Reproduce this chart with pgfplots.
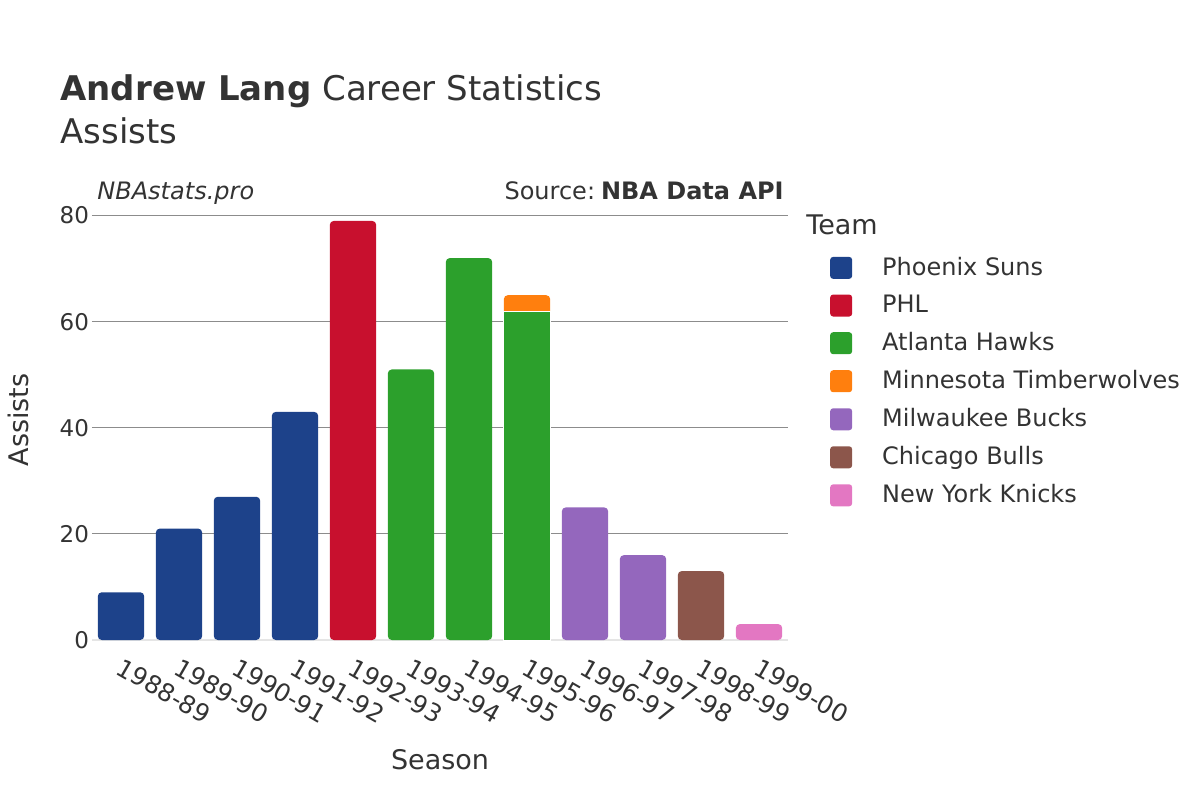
\documentclass[border=0pt]{standalone}
\usepackage{pgfplots}
\pgfplotsset{compat=1.18}
\usepackage{fontspec}
\setmainfont{DejaVu Sans}
\definecolor{txt}{HTML}{333333}
\definecolor{cPHX}{HTML}{1D428A}
\definecolor{cPHL}{HTML}{C8102E}
\definecolor{cATL}{HTML}{2CA02C}
\definecolor{cMIN}{HTML}{FF7F0E}
\definecolor{cMIL}{HTML}{9467BD}
\definecolor{cCHI}{HTML}{8C564B}
\definecolor{cNYK}{HTML}{E377C2}
\definecolor{gridc}{HTML}{8C8C8C}
\definecolor{basec}{HTML}{E5E5E5}
\begin{document}
\begin{tikzpicture}[x=1pt,y=1pt]
\path[use as bounding box] (0pt,0pt) rectangle (600pt,400pt);
\begin{axis}[
  at={(46pt,80pt)}, anchor=south west, scale only axis,
  width=348pt, height=217.5pt,
  xmin=-0.5, xmax=11.5, ymin=0, ymax=82,
  ybar, bar width=0.8, bar shift=0pt,
  clip=false,
  axis line style={draw=none},
  tick style={draw=none},
  xtick={0,...,11},
  xticklabels={1988-89,1989-90,1990-91,1991-92,1992-93,1993-94,1994-95,1995-96,1996-97,1997-98,1998-99,1999-00},
  xticklabel style={rotate=-30, anchor=north west, font=\fontsize{12.3}{14}\selectfont, text=txt, xshift=0pt, yshift=0.5pt},
  ytick={20,40,60,80},
  extra y ticks={0},
  extra y tick style={grid style={color=basec, line width=1.2pt}},
  ymajorgrids,
  grid style={color=gridc, line width=0.5pt},
  yticklabel style={font=\fontsize{11.5}{13}\selectfont, text=txt, xshift=2pt},
  /pgf/number format/assume math mode=true,
  every axis plot/.append style={draw=none, rounded corners=2pt},
  legend style={at={(1.06,0.89)}, anchor=north west, draw=none, fill=none,
    font=\fontsize{12}{14}\selectfont, text=txt, row sep=4.4pt,
    /tikz/every odd column/.append style={column sep=13pt},
    inner sep=0pt},
  legend cell align=left,
  legend image code/.code={\fill[#1, draw=none, rounded corners=1.5pt] (0pt,-5.5pt) rectangle (11pt,5.5pt);},
]
\addplot[fill=cPHX] coordinates {(0,9) (1,21) (2,27) (3,43)};
\addlegendentry{Phoenix Suns}
\addplot[fill=cPHL] coordinates {(4,79)};
\addlegendentry{PHL}
\addplot[fill=cATL] coordinates {(5,51) (6,72)};
\addlegendentry{Atlanta Hawks}
\addplot[fill=cMIN] coordinates {(7,65)};
\addlegendentry{Minnesota Timberwolves}
\addplot[fill=cATL, draw=white, line width=0.5pt, rounded corners=0pt, forget plot] coordinates {(7,62)};
\addplot[fill=cMIL] coordinates {(8,25) (9,16)};
\addlegendentry{Milwaukee Bucks}
\addplot[fill=cCHI] coordinates {(10,13)};
\addlegendentry{Chicago Bulls}
\addplot[fill=cNYK] coordinates {(11,3)};
\addlegendentry{New York Knicks}
\end{axis}
\node[anchor=base west, font=\fontsize{17}{20}\selectfont, text=txt, inner sep=0pt] at (30pt,349.5pt) {\textbf{Andrew Lang} Career Statistics};
\node[anchor=base west, font=\fontsize{17}{20}\selectfont, text=txt, inner sep=0pt] at (30pt,328pt) {Assists};
\node[anchor=base west, font=\itshape\fontsize{12}{14}\selectfont, text=txt, inner sep=0pt] at (48.5pt,300.5pt) {NBAstats.pro};
\node[anchor=base east, font=\fontsize{12}{14}\selectfont, text=txt, inner sep=0pt] at (392pt,300.5pt) {Source:\hspace{3pt}\textbf{NBA Data API}};
\node[anchor=base west, font=\fontsize{13.5}{16}\selectfont, text=txt, inner sep=0pt] at (403pt,283pt) {Team};
\node[rotate=90, font=\fontsize{13.5}{16}\selectfont, text=txt, inner sep=0pt] at (9pt,190pt) {Assists};
\node[font=\fontsize{13.5}{16}\selectfont, text=txt, inner sep=0pt] at (220pt,20pt) {Season};
\end{tikzpicture}
\end{document}
